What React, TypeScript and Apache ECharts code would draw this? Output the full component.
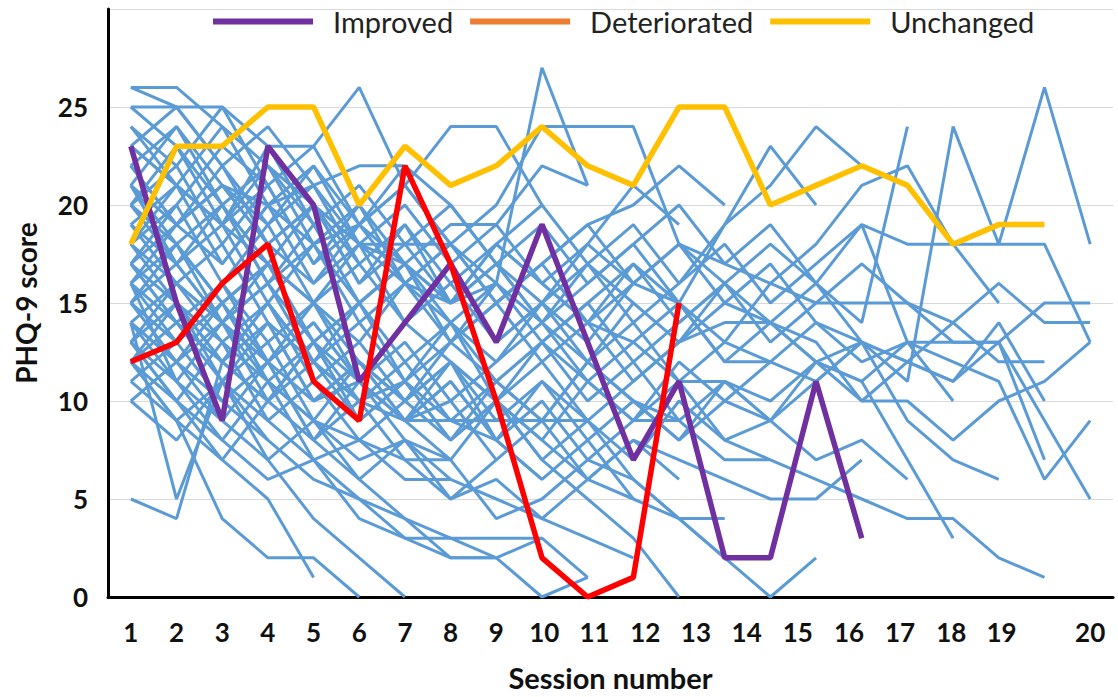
import React, { useEffect, useRef } from "react";
import * as echarts from "echarts";

// Session labels and where each one sits on the session-index axis
const sessionLabels = ["1", "2", "3", "4", "5", "6", "7", "8", "9", "10", "11", "12", "13", "14", "15", "16", "17", "18", "19", "20"];
const sessionTickAt = [0, 1, 2, 3, 4, 5, 6, 7, 8, 9.05, 10.15, 11.26, 12.37, 13.48, 14.6, 15.72, 16.84, 17.96, 19.06, 21];

// PHQ-9 scores of the three highlighted patients, one value per session index
const improved = [23, 15, 9, 23, 20, 11, 14, 17, 13, 19, 13, 7, 11, 2, 2, 11, 3];
const deteriorated = [12, 13, 16, 18, 11, 9, 22, 17, 10, 2, 0, 1, 15];
const unchanged = [18, 23, 23, 25, 25, 20, 23, 21, 22, 24, 22, 21, 25, 25, 20, 21, 22, 21, 18, 19, 19];

// PHQ-9 scores of every other patient, one row per patient
const otherPatients: number[][] = [
  [20, 22, 18, 21, 17, 19, 16, 18, 15, 17, 19, 16, 18, 15, 17, 14, 13, 11, 24, 18, 26, 18],
  [22, 19, 21, 18, 20, 17, 19, 16, 18, 20, 17, 19, 16, 18, 15, 17, 19, 18, 18, 18, 18, 13],
  [16, 18, 15, 17, 13, 15, 12, 14, 11, 13, 15, 12, 14, 16, 13, 15, 17, 15, 14, 16, 14, 14],
  [18, 16, 14, 17, 15, 13, 16, 14, 12, 15, 13, 16, 18, 17, 16, 15, 15, 15, 13, 13, 15, 15],
  [15, 13, 16, 12, 14, 11, 13, 10, 12, 14, 11, 13, 15, 12, 14, 13, 10, 10, 8, 10, 11, 13],
  [19, 21, 17, 20, 16, 18, 14, 17, 13, 15, 12, 14, 11, 13, 12, 14, 12, 13, 12, 11, 6, 9],
  [14, 12, 15, 11, 13, 10, 12, 9, 11, 13, 10, 12, 9, 11, 10, 12, 11, 13, 13, 13, 9, 5],
  [17, 15, 12, 14, 10, 12, 9, 11, 8, 10, 7, 9, 11, 8, 7, 6, 5, 4, 4, 2, 1],
  [13, 16, 14, 12, 15, 11, 14, 12, 10, 13, 11, 9, 12, 10, 12, 11, 13, 12, 14, 12, 12],
  [21, 18, 20, 16, 19, 15, 17, 13, 16, 14, 17, 15, 13, 16, 14, 12, 13, 12, 11, 13, 7],
  [12, 15, 11, 13, 9, 12, 10, 8, 11, 9, 12, 10, 8, 11, 9, 12, 10, 12, 11, 14, 10],
  [17, 14, 16, 13, 15, 12, 10, 13, 11, 9, 12, 10, 8, 10, 9, 11, 13, 9, 7, 6],
  [23, 21, 19, 22, 18, 20, 17, 15, 18, 16, 14, 17, 15, 13, 16, 18, 21, 22, 18, 15],
  [20, 17, 19, 15, 18, 14, 16, 13, 15, 12, 14, 11, 13, 14, 14, 12, 11, 7, 3],
  [15, 18, 14, 16, 12, 15, 11, 14, 10, 12, 9, 11, 13, 15, 14, 16, 19, 13, 10],
  [19, 17, 20, 16, 18, 15, 17, 14, 16, 13, 15, 17, 14, 16, 18, 16, 14, 24],
  [16, 14, 12, 15, 11, 13, 10, 12, 8, 11, 9, 7, 10, 8, 9, 7, 8, 6],
  [24, 22, 25, 21, 23, 19, 22, 20, 17, 19, 16, 18, 20, 17, 19, 16, 13],
  [11, 13, 10, 12, 8, 11, 9, 7, 10, 8, 6, 8, 7, 6, 5, 5, 7],
  [18, 20, 16, 19, 15, 17, 14, 16, 13, 15, 17, 14, 16, 19, 21, 24, 22],
  [21, 19, 22, 18, 20, 16, 19, 15, 17, 14, 16, 18, 15, 19, 23, 20],
  [13, 11, 14, 10, 12, 9, 11, 8, 10, 7, 9, 6, 4, 2, 0, 2],
  [12, 10, 13, 9, 11, 8, 10, 12, 9, 11, 8, 10, 9, 7, 7],
  [20, 23, 19, 21, 17, 20, 16, 18, 15, 17, 14, 16, 15, 12, 12],
  [17, 19, 21, 18, 16, 19, 17, 15, 18, 16, 14, 13, 11, 11, 9],
  [23, 21, 24, 20, 22, 19, 21, 18, 20, 24, 24, 24, 18, 16],
  [14, 16, 13, 15, 12, 14, 11, 13, 15, 17, 19, 20, 22, 20],
  [10, 8, 11, 7, 9, 6, 8, 5, 7, 9, 6, 5, 4, 4],
  [21, 17, 14, 12, 10, 11, 8, 7, 4, 5, 7, 6, 4, 2],
  [13, 15, 12, 10, 13, 9, 11, 8, 10, 7, 5, 3, 0],
  [22, 24, 21, 19, 22, 18, 20, 17, 19, 16, 18, 21, 19],
  [16, 13, 15, 12, 14, 11, 9, 12, 10, 8, 11, 9, 9],
  [14, 11, 9, 12, 8, 10, 7, 5, 6, 4, 6, 8, 6],
  [18, 21, 19, 17, 20, 16, 18, 15, 17, 14, 12, 15],
  [12, 9, 11, 14, 10, 12, 9, 11, 8, 6, 8, 5],
  [25, 23, 20, 22, 19, 21, 18, 20, 17, 15, 18, 16],
  [18, 15, 13, 11, 9, 7, 8, 6, 5, 4, 3, 2],
  [21, 24, 20, 17, 15, 18, 16, 15, 16, 27, 21],
  [17, 14, 12, 15, 12, 10, 9, 9, 9, 9, 9],
  [15, 17, 14, 16, 13, 15, 17, 19, 19, 22, 21],
  [11, 9, 7, 10, 8, 6, 4, 3, 2, 0, 1],
  [16, 11, 8, 6, 7, 4, 3, 2, 2, 3, 1],
  [14, 12, 10, 8, 6, 5, 3, 3, 3, 3],
  [19, 16, 18, 14, 12, 10, 11, 9, 8, 6],
  [22, 19, 21, 20, 18, 19, 21, 24, 24, 20],
  [13, 10, 8, 11, 7, 5, 4, 2, 2],
  [20, 18, 15, 17, 13, 11, 9, 10, 7],
  [24, 21, 19, 23, 23, 26, 21, 18, 16],
  [16, 19, 17, 20, 21, 18, 18, 18],
  [15, 12, 14, 11, 9, 8, 7, 7],
  [12, 14, 11, 9, 7, 8, 6, 6],
  [10, 12, 9, 7, 4, 2, 0],
  [23, 25, 22, 19, 21, 22, 22],
  [26, 26, 24, 22, 20, 18, 17],
  [26, 25, 22, 24, 21, 17],
  [12, 9, 4, 2, 2, 0],
  [13, 10, 7, 5, 1],
  [25, 25, 25, 23, 19],
  [5, 4, 12, 10, 13],
  [14, 5, 11, 8],
  [17, 20, 23, 21],
];

const FONT = 'Lato, "Noto Sans", sans-serif';

const toPoints = (scores: number[]) => scores.map((v, i) => [i, v]);

export default function App() {
  const ref = useRef<HTMLDivElement>(null);

  useEffect(() => {
    if (!ref.current) return;
    const chart = echarts.init(ref.current, undefined, { renderer: "svg" });

    const patientSeries = otherPatients.map((scores, idx) => ({
      type: "line",
      name: "patient-" + (idx + 1),
      data: toPoints(scores),
      showSymbol: false,
      silent: true,
      lineStyle: { color: "#5B9BD5", width: 3 },
      itemStyle: { color: "#5B9BD5" },
      z: 2,
    }));

    const highlight = (name: string, scores: number[], legendColor: string, lineColor: string, z: number) => ({
      type: "line",
      name,
      data: toPoints(scores),
      showSymbol: false,
      silent: true,
      lineStyle: { color: lineColor, width: 5.5 },
      itemStyle: { color: legendColor },
      z,
    });

    chart.setOption({
      animation: false,
      backgroundColor: "#ffffff",
      grid: { left: 108, right: 5, top: 9, bottom: 100, outerBoundsMode: "none", containLabel: false },
      legend: {
        data: ["Improved", "Deteriorated", "Unchanged"],
        left: 213,
        top: 7,
        padding: 0,
        icon: "rect",
        itemWidth: 100,
        itemHeight: 6,
        itemGap: 17,
        textStyle: { fontFamily: FONT, fontSize: 29, color: "#222", padding: [0, 0, 0, 15] },
      },
      xAxis: {
        type: "value",
        min: -0.5,
        max: 21.5,
        name: "Session number",
        nameLocation: "middle",
        nameGap: 66,
        nameTextStyle: { fontFamily: FONT, fontSize: 29, fontWeight: "bold", color: "#111" },
        axisLine: { show: true, onZero: false, lineStyle: { color: "#000", width: 3 } },
        axisTick: { show: false },
        splitLine: { show: false },
        axisLabel: {
          customValues: sessionTickAt,
          margin: 22,
          fontFamily: FONT,
          fontSize: 26,
          fontWeight: "bold",
          color: "#111",
          formatter: (value: number) => {
            let best = 0;
            sessionTickAt.forEach((t, i) => {
              if (Math.abs(t - value) < Math.abs(sessionTickAt[best] - value)) best = i;
            });
            return sessionLabels[best];
          },
        },
      },
      yAxis: {
        type: "value",
        min: 0,
        max: 30,
        interval: 5,
        name: "PHQ-9 score",
        nameLocation: "middle",
        nameGap: 68,
        nameTextStyle: { fontFamily: FONT, fontSize: 28, fontWeight: "bold", color: "#111" },
        axisLine: { show: true, onZero: false, lineStyle: { color: "#000", width: 3 } },
        axisTick: { show: false },
        splitLine: { show: true, lineStyle: { color: "#d9d9d9", width: 1 } },
        axisLabel: {
          margin: 20,
          fontFamily: FONT,
          fontSize: 26,
          fontWeight: "bold",
          color: "#111",
          formatter: (v: number) => (v >= 30 ? "" : String(v)),
        },
      },
      series: [
        ...patientSeries,
        highlight("Improved", improved, "#7030A0", "#7030A0", 5),
        highlight("Deteriorated", deteriorated, "#ED7D31", "#FF0000", 6),
        highlight("Unchanged", unchanged, "#FFC000", "#FFC000", 7),
      ],
    });

    return () => chart.dispose();
  }, []);

  return (
    <div
      ref={ref}
      style={{ position: "fixed", left: 0, top: 0, width: 1118, height: 697, background: "#fff" }}
    />
  );
}
